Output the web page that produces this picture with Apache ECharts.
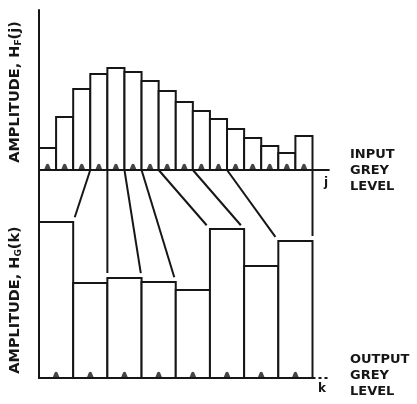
<!DOCTYPE html>
<html>
<head>
<meta charset="utf-8">
<script src="https://cdn.jsdelivr.net/npm/echarts@6/dist/echarts.min.js"></script>
<style>
  html, body { margin: 0; padding: 0; background: #ffffff; }
  #chart { width: 417px; height: 404px; }
</style>
</head>
<body>
<div id="chart"></div>
<script>
// Input grey-level histogram H_F(j): 16 quantisation levels (arbitrary amplitude units)
const inputAmplitude = [22, 53, 81, 96, 102, 98, 89, 79, 68, 59, 51, 41, 32, 24, 17, 34];
// Number of consecutive input levels merged into each output level
const binsPerOutput = [3, 1, 1, 1, 1, 2, 2, 5];
// Output grey-level histogram H_G(k): 8 quantisation levels
const outputAmplitude = [156, 95, 100, 96, 88, 149, 112, 137];

// Vertical layout of the two stacked histograms on one shared value axis
const inputBase = 208;   // baseline of the input histogram
const yTop = 368;

const INK = '#161616';
const FONT = 'DejaVu Sans';
const LEVEL_MARK = 'path://M0 10 L3 2 Q5 -0.5 7 2 L10 10 Z';

const nIn = inputAmplitude.length;
const outWidth = nIn / outputAmplitude.length;

// cumulative input boundary reached by each output level
const inputBounds = [];
binsPerOutput.reduce((acc, n) => { inputBounds.push(acc + n); return acc + n; }, 0);

function rectItem(api, x0, x1, y0, y1) {
  const a = api.coord([x0, y0]);
  const b = api.coord([x1, y1]);
  return {
    type: 'rect',
    shape: { x: a[0], y: b[1], width: b[0] - a[0], height: a[1] - b[1] },
    style: { fill: '#ffffff', stroke: INK, lineWidth: 2 }
  };
}

const chart = echarts.init(document.getElementById('chart'), null, { renderer: 'canvas' });

chart.setOption({
  backgroundColor: '#ffffff',
  animation: false,
  grid: { left: 39, right: 104.5, top: 10, bottom: 26 },
  xAxis: {
    type: 'value', min: 0, max: nIn, show: false
  },
  yAxis: {
    type: 'value', min: 0, max: yTop,
    axisLine: { show: true, lineStyle: { color: INK, width: 2 } },
    axisTick: { show: false }, axisLabel: { show: false }, splitLine: { show: false }
  },
  series: [
    {
      // input histogram bars
      type: 'custom',
      data: inputAmplitude.map((v, i) => [i, v]),
      renderItem: (params, api) => {
        const i = api.value(0), v = api.value(1);
        return rectItem(api, i, i + 1, inputBase, inputBase + v);
      },
      z: 2
    },
    {
      // output histogram bars
      type: 'custom',
      data: outputAmplitude.map((v, i) => [i, v]),
      renderItem: (params, api) => {
        const i = api.value(0), v = api.value(1);
        return rectItem(api, i * outWidth, (i + 1) * outWidth, 0, v);
      },
      z: 2
    },
    {
      // mapping lines from input level boundaries to output level boundaries
      type: 'custom',
      data: inputBounds.map((b, i) => [b, (i + 1) * outWidth,
        i < outputAmplitude.length - 1 ? Math.max(outputAmplitude[i], outputAmplitude[i + 1]) : outputAmplitude[i]]),
      renderItem: (params, api) => {
        const p0 = api.coord([api.value(0), inputBase]);
        const p1 = api.coord([api.value(1), api.value(2)]);
        const gap = 5;
        const len = Math.hypot(p1[0] - p0[0], p1[1] - p0[1]);
        const t = (len - gap) / len;
        return {
          type: 'line',
          shape: { x1: p0[0], y1: p0[1], x2: p0[0] + (p1[0] - p0[0]) * t, y2: p0[1] + (p1[1] - p0[1]) * t },
          style: { stroke: INK, lineWidth: 2 }
        };
      },
      z: 3
    },
    {
      // baselines (grey-level axes)
      type: 'custom',
      data: [[0, nIn + 1, inputBase, 0], [0, nIn, 0, 0], [nIn, nIn + 1, 0, 1]],
      renderItem: (params, api) => {
        const a = api.coord([api.value(0), api.value(2)]);
        const b = api.coord([api.value(1), api.value(2)]);
        return {
          type: 'line',
          shape: { x1: a[0], y1: a[1], x2: b[0], y2: b[1] },
          style: { stroke: INK, lineWidth: 2, lineDash: api.value(3) ? [3, 3] : null }
        };
      },
      z: 4
    },
    {
      // level markers on the input axis
      type: 'scatter',
      data: inputAmplitude.map((v, i) => [i + 0.5, inputBase]),
      symbol: LEVEL_MARK,
      symbolSize: [7, 6],
      symbolOffset: [0, '-55%'],
      itemStyle: { color: INK },
      silent: true,
      z: 5
    },
    {
      // level markers on the output axis
      type: 'scatter',
      data: outputAmplitude.map((v, i) => [i * outWidth + outWidth / 2, 0]),
      symbol: LEVEL_MARK,
      symbolSize: [7, 6],
      symbolOffset: [0, '-55%'],
      itemStyle: { color: INK },
      silent: true,
      z: 5
    }
  ],
  graphic: [
    {
      type: 'text', x: 15, y: 92, rotation: Math.PI / 2,
      style: {
        text: '{a|AMPLITUDE, H}{s|F}{a|(j)}',
        align: 'center', verticalAlign: 'middle', fill: INK,
        rich: {
          a: { fontFamily: FONT, fontWeight: 'bold', fontSize: 14.5, fill: INK },
          s: { fontFamily: FONT, fontWeight: 'bold', fontSize: 9, fill: INK, padding: [8, 0, 0, 0] }
        }
      }
    },
    {
      type: 'text', x: 15, y: 300, rotation: Math.PI / 2,
      style: {
        text: '{a|AMPLITUDE, H}{s|G}{a|(k)}',
        align: 'center', verticalAlign: 'middle', fill: INK,
        rich: {
          a: { fontFamily: FONT, fontWeight: 'bold', fontSize: 14.5, fill: INK },
          s: { fontFamily: FONT, fontWeight: 'bold', fontSize: 9, fill: INK, padding: [8, 0, 0, 0] }
        }
      }
    },
    {
      type: 'text', x: 350, y: 147,
      style: { text: 'INPUT\nGREY\nLEVEL', fontFamily: FONT, fontWeight: 'bold', fontSize: 13, lineHeight: 16, fill: INK, align: 'left', verticalAlign: 'top' }
    },
    {
      type: 'text', x: 350, y: 352,
      style: { text: 'OUTPUT\nGREY\nLEVEL', fontFamily: FONT, fontWeight: 'bold', fontSize: 13, lineHeight: 16, fill: INK, align: 'left', verticalAlign: 'top' }
    },
    {
      type: 'text', x: 326, y: 183,
      style: { text: 'j', fontFamily: FONT, fontWeight: 'bold', fontSize: 12, fill: INK, align: 'center', verticalAlign: 'middle' }
    },
    {
      type: 'text', x: 322, y: 389,
      style: { text: 'k', fontFamily: FONT, fontWeight: 'bold', fontSize: 12, fill: INK, align: 'center', verticalAlign: 'middle' }
    }
  ]
});
</script>
</body>
</html>
